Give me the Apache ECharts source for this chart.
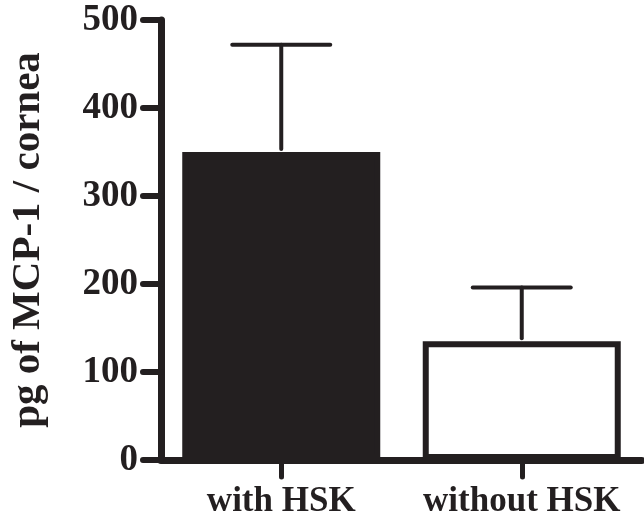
<!DOCTYPE html>
<html>
<head>
<meta charset="utf-8">
<script src="https://cdn.jsdelivr.net/npm/echarts@6/dist/echarts.min.js"></script>
<style>html,body{margin:0;padding:0;background:#fff;}#c{width:644px;height:519px;}</style>
</head>
<body>
<div id="c"></div>
<script>
var categories = ['with HSK', 'without HSK'];
var means = [350, 135];
var errTop = [472, 196];
var yTicks = [0, 100, 200, 300, 400, 500];
var yTitle = 'pg of MCP-1 / cornea';

var ink = '#231f20';
var font = '"Liberation Serif", "Times New Roman", serif';

var chart = echarts.init(document.getElementById('c'), null, {renderer: 'canvas'});
chart.setOption({
  backgroundColor: '#fff',
  animation: false,
  grid: {left: 158, right: 2, top: 20, bottom: 58, containLabel: false},
  xAxis: {
    type: 'category',
    data: categories,
    axisLine: {lineStyle: {color: ink, width: 7}},
    axisTick: {show: true, alignWithLabel: true, length: 17, lineStyle: {color: ink, width: 5, cap: 'round'}},
    axisLabel: {color: ink, fontFamily: font, fontWeight: 'bold', fontSize: 35, margin: 24, interval: 0}
  },
  yAxis: {
    type: 'value',
    min: 0, max: 500, interval: 100,
    name: yTitle,
    nameLocation: 'middle',
    nameGap: 112,
    nameTextStyle: {color: ink, fontFamily: font, fontWeight: 'bold', fontSize: 41},
    splitLine: {show: false},
    axisLine: {show: true, lineStyle: {color: ink, width: 7}},
    axisTick: {show: true, length: 18, lineStyle: {color: ink, width: 6, cap: 'round'}},
    axisLabel: {color: ink, fontFamily: font, fontWeight: 'bold', fontSize: 37, margin: 23,
      formatter: function (v) { return yTicks.indexOf(v) >= 0 ? String(v) : ''; }}
  },
  series: [
    {
      type: 'bar',
      barWidth: 198,
      z: 1,
      data: means.map(function (v, i) {
        return {
          value: v,
          itemStyle: i === 0
            ? {color: ink, borderColor: ink, borderWidth: 6}
            : {color: '#fff', borderColor: ink, borderWidth: 6}
        };
      })
    },
    {
      type: 'custom',
      z: 3,
      data: means.map(function (v, i) { return [i, v, errTop[i]]; }),
      renderItem: function (params, api) {
        var base = api.coord([api.value(0), api.value(1)]);
        var top = api.coord([api.value(0), api.value(2)]);
        var half = 49;
        var style = {stroke: ink, lineWidth: 4, lineCap: 'round'};
        return {
          type: 'group',
          children: [
            {type: 'line', shape: {x1: base[0], y1: base[1] - 3, x2: top[0], y2: top[1]}, style: style},
            {type: 'line', shape: {x1: top[0] - half, y1: top[1], x2: top[0] + half, y2: top[1]}, style: style}
          ]
        };
      }
    }
  ]
});
</script>
</body>
</html>
